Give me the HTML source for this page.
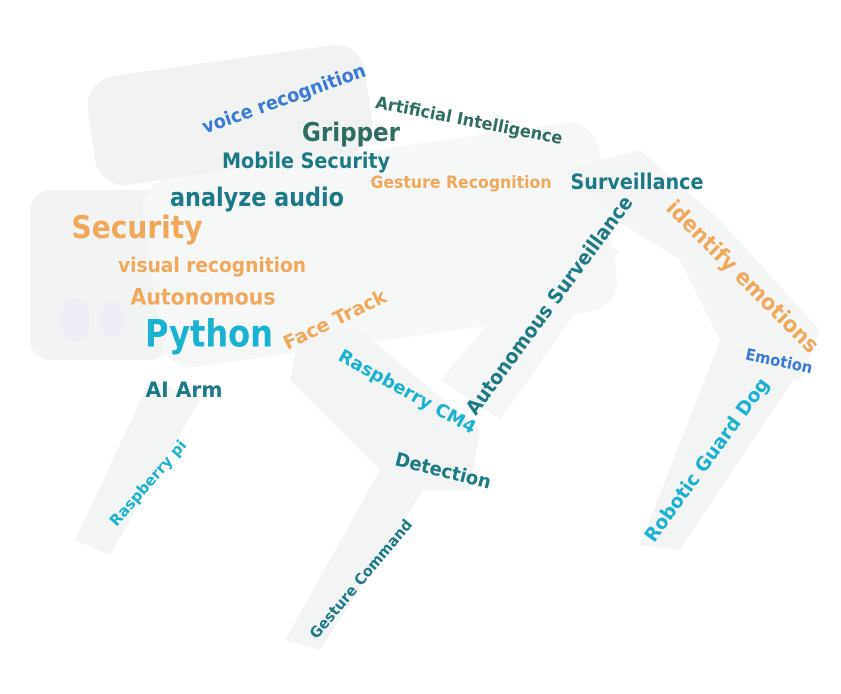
<!DOCTYPE html>
<html><head><meta charset="utf-8"><style>
html,body{margin:0;padding:0;background:#fff;}
svg{display:block;}
text{font-family:"DejaVu Sans","Liberation Sans",sans-serif;font-weight:bold;}
</style></head><body>
<svg width="841" height="694" viewBox="0 0 841 694">
<g fill="#f3f5f5" stroke="none">
  <rect x="90" y="60" width="280" height="110" rx="30" transform="rotate(-8 230 115)" fill="#f1f3f3"/>
  <rect x="30" y="190" width="140" height="170" rx="20" fill="#f2f4f4"/>
  <rect x="150" y="150" width="460" height="190" rx="30" transform="rotate(-8 380 245)" fill="#f6f7f7"/>
  <polygon points="560,170 640,150 720,220 820,330 800,380 730,360 680,260 600,210" fill="#f4f6f6"/>
  <polygon points="720,340 800,370 680,550 640,545"/>
  <polygon points="300,330 360,330 480,430 470,490 400,490 290,380"/>
  <polygon points="440,380 560,240 620,250 500,420" fill="#f5f6f6"/>
  <polygon points="380,470 430,480 320,650 285,640"/>
  <polygon points="150,380 200,400 110,555 75,540"/>
  <ellipse cx="75" cy="320" rx="15" ry="22" fill="#efeef6"/>
  <ellipse cx="112" cy="320" rx="12" ry="18" fill="#efeef6"/>
</g>
<g text-anchor="middle" dominant-baseline="central">
  <text fill="#3a7bd5" font-size="19" textLength="172" lengthAdjust="spacingAndGlyphs" transform="translate(284,99) rotate(-19.7)">voice recognition</text>
  <text fill="#2f6d63" font-size="17" textLength="190" lengthAdjust="spacingAndGlyphs" transform="translate(469,121) rotate(11)">Artificial Intelligence</text>
  <text fill="#2f6d63" font-size="26" textLength="98" lengthAdjust="spacingAndGlyphs" transform="translate(351,133)">Gripper</text>
  <text fill="#1b7a86" font-size="21" textLength="168" lengthAdjust="spacingAndGlyphs" transform="translate(306,161)">Mobile Security</text>
  <text fill="#f2a85a" font-size="17" textLength="181" lengthAdjust="spacingAndGlyphs" transform="translate(461,183)">Gesture Recognition</text>
  <text fill="#1b7a86" font-size="26" textLength="174" lengthAdjust="spacingAndGlyphs" transform="translate(257,198)">analyze audio</text>
  <text fill="#1b7a86" font-size="21" textLength="133" lengthAdjust="spacingAndGlyphs" transform="translate(637,182)">Surveillance</text>
  <text fill="#f2a85a" font-size="31" textLength="131" lengthAdjust="spacingAndGlyphs" transform="translate(137,228)">Security</text>
  <text fill="#f2a85a" font-size="20" textLength="188" lengthAdjust="spacingAndGlyphs" transform="translate(212,265)">visual recognition</text>
  <text fill="#f2a85a" font-size="22" textLength="145" lengthAdjust="spacingAndGlyphs" transform="translate(203,298)">Autonomous</text>
  <text fill="#1ab1d3" font-size="37" textLength="128" lengthAdjust="spacingAndGlyphs" transform="translate(209,334)">Python</text>
  <text fill="#f2a85a" font-size="19" textLength="112" lengthAdjust="spacingAndGlyphs" transform="translate(335,320) rotate(-26)">Face Track</text>
  <text fill="#1b7a86" font-size="21" textLength="77" lengthAdjust="spacingAndGlyphs" transform="translate(184,390)">AI Arm</text>
  <text fill="#1ab1d3" font-size="18" textLength="154" lengthAdjust="spacingAndGlyphs" transform="translate(407,392) rotate(29)">Raspberry CM4</text>
  <text fill="#1b7a86" font-size="20" textLength="266" lengthAdjust="spacingAndGlyphs" transform="translate(549,305) rotate(-53.6)">Autonomous Surveillance</text>
  <text fill="#f2a85a" font-size="22" textLength="205" lengthAdjust="spacingAndGlyphs" transform="translate(742,277) rotate(45)">identify emotions</text>
  <text fill="#3a7bd5" font-size="16" textLength="68" lengthAdjust="spacingAndGlyphs" transform="translate(779,361) rotate(12)">Emotion</text>
  <text fill="#1ab1d3" font-size="19" textLength="197" lengthAdjust="spacingAndGlyphs" transform="translate(707,460) rotate(-54)">Robotic Guard Dog</text>
  <text fill="#1b7a86" font-size="19" textLength="98" lengthAdjust="spacingAndGlyphs" transform="translate(443,471) rotate(14)">Detection</text>
  <text fill="#1ab1d3" font-size="15" textLength="108" lengthAdjust="spacingAndGlyphs" transform="translate(148,483) rotate(-49)">Raspberry pi</text>
  <text fill="#1b7a86" font-size="15" textLength="150" lengthAdjust="spacingAndGlyphs" transform="translate(361,579) rotate(-50)">Gesture Command</text>
</g>
</svg>
</body></html>
